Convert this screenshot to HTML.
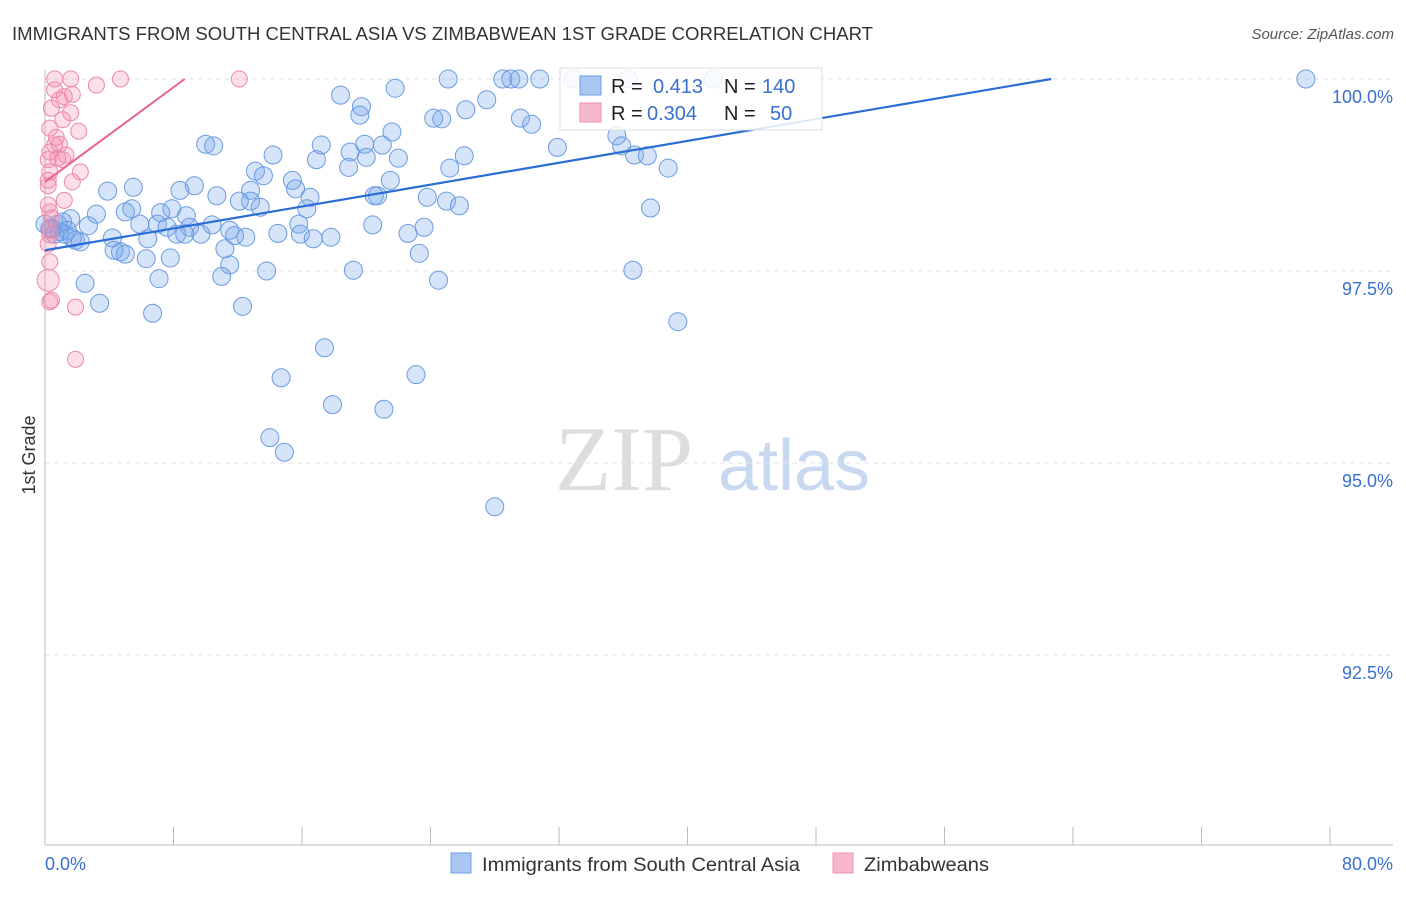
<!DOCTYPE html>
<html><head><meta charset="utf-8"><style>
body{margin:0;background:#fff;font-family:"Liberation Sans",sans-serif;}
svg text{font-family:"Liberation Sans",sans-serif;}
</style></head><body>
<svg id="chart" width="1406" height="892">
<text x="12" y="40" font-size="18" textLength="861" lengthAdjust="spacingAndGlyphs" fill="#333">IMMIGRANTS FROM SOUTH CENTRAL ASIA VS ZIMBABWEAN 1ST GRADE CORRELATION CHART</text>
<text x="1394" y="39" font-size="15" fill="#555" font-style="italic" text-anchor="end">Source: ZipAtlas.com</text>
<text x="35" y="455" font-size="18" fill="#333" transform="rotate(-90 35 455)" text-anchor="middle">1st Grade</text>
<g><text x="555" y="490" font-size="92" fill="#ddd" font-family="Liberation Serif" style="font-family:'Liberation Serif',serif">ZIP</text><text x="718" y="490" font-size="72" fill="#c8d8f0">atlas</text></g>
<g id="grid"></g><g id="pts"></g><g id="lines"></g>
<g>
<rect x="560" y="68" width="262" height="62" fill="#fff" fill-opacity="0.85" stroke="#ddd"/>
<rect x="580" y="76" width="21" height="19" fill="#a9c7f2" stroke="#6f9de0"/>
<rect x="580" y="103" width="21" height="19" fill="#f7b8cb" stroke="#ee92b0"/>
<text x="611" y="93" font-size="20" fill="#222">R =</text>
<text x="653" y="93" font-size="20" fill="#3a70d0">0.413</text>
<text x="724" y="93" font-size="20" fill="#222">N =</text>
<text x="762" y="93" font-size="20" fill="#3a70d0">140</text>
<text x="611" y="120" font-size="20" fill="#222">R =</text>
<text x="647" y="120" font-size="20" fill="#3a70d0">0.304</text>
<text x="724" y="120" font-size="20" fill="#222">N =</text>
<text x="770" y="120" font-size="20" fill="#3a70d0">50</text>
</g>
<g>
<rect x="451" y="853" width="20" height="20" fill="#a9c7f2" stroke="#6f9de0"/>
<text x="482" y="871" font-size="19.5" textLength="318" lengthAdjust="spacingAndGlyphs" fill="#333">Immigrants from South Central Asia</text>
<rect x="833" y="853" width="20" height="20" fill="#f7b8cb" stroke="#ee92b0"/>
<text x="864" y="871" font-size="19.5" textLength="125" lengthAdjust="spacingAndGlyphs" fill="#333">Zimbabweans</text>
</g>
</svg>
<script>
const blueX=[32.9,36.3,41.6,25.1,28.5,29.0,29.5,30.8,78.5,21.8,18.4,27.5,19.7,26.2,19.6,24.2,24.7,29.6,30.3,21.6,35.6,35.9,31.9,10.0,10.5,17.2,19.0,19.9,21.0,20.0,14.2,16.9,22.0,26.1,36.7,37.5,25.2,38.8,18.9,13.1,13.6,15.4,21.5,12.8,15.6,3.9,5.5,8.4,9.3,10.7,12.1,16.5,20.7,20.5,23.8,25.0,25.8,37.7,12.8,13.4,16.3,3.2,5.0,5.4,7.2,7.9,8.8,1.6,0.8,2.7,5.9,7.0,7.6,9.0,10.4,11.5,15.8,20.4,23.6,8.2,8.7,9.7,11.8,12.5,14.5,15.9,16.7,17.8,22.6,0.5,0.9,1.2,1.9,2.2,4.2,6.4,11.2,4.3,4.7,5.0,6.3,7.8,11.5,13.8,19.2,23.3,36.6,11.0,7.1,24.5,2.5,3.4,12.3,6.7,39.4,17.4,14.7,23.1,17.9,21.1,14.0,14.9,28.0,0.0,0.3,0.6,1.1,1.4,1.7];
const blueY=[100,100,100,100,100,100,100,100,100,99.88,99.79,99.73,99.64,99.60,99.53,99.49,99.48,99.49,99.41,99.31,99.26,99.13,99.11,99.15,99.13,99.14,99.05,99.15,99.14,98.98,99.01,98.95,98.97,99.00,99.01,99.00,98.84,98.84,98.85,98.80,98.74,98.68,98.68,98.55,98.57,98.54,98.59,98.55,98.61,98.48,98.41,98.46,98.48,98.48,98.46,98.41,98.35,98.32,98.41,98.33,98.31,98.24,98.27,98.31,98.26,98.31,98.22,98.18,98.11,98.09,98.11,98.11,98.07,98.07,98.10,98.03,98.11,98.10,98.07,97.98,97.98,97.98,97.96,97.94,97.99,97.98,97.92,97.94,97.99,98.05,98.01,97.98,97.90,97.88,97.93,97.92,97.79,97.77,97.75,97.72,97.66,97.67,97.58,97.50,97.51,97.73,97.51,97.43,97.40,97.38,97.34,97.08,97.04,96.95,96.84,96.50,96.11,96.15,95.76,95.70,95.33,95.14,94.43,98.11,98.05,97.98,98.14,98.03,97.93];
const pinkX=[0.6,1.6,4.7,12.1,3.2,0.6,1.2,1.7,0.9,0.4,1.6,0.3,2.1,0.7,0.9,0.3,0.8,0.2,1.1,0.3,2.2,0.2,1.7,1.2,0.2,0.3,0.4,0.3,0.2,0.3,0.2,0.4,0.3,1.9,1.9,1.1,0.2,0.6,1.3,0.3];
const pinkY=[100,100,100,100,99.92,99.86,99.77,99.80,99.73,99.62,99.56,99.36,99.32,99.24,99.15,99.05,98.97,98.95,98.95,98.79,98.79,98.68,98.66,98.42,98.36,98.27,98.19,97.97,97.85,97.62,97.38,97.12,97.10,97.03,96.35,99.47,98.61,99.14,99.01,98.03];
const blueFit=[97.77,0.0356], pinkFit=[98.66,0.154];
const yTicks=[100,97.5,95,92.5], yTickLabels=["100.0%","97.5%","95.0%","92.5%"];
const NS="http://www.w3.org/2000/svg";
const xs=v=>45+v/80*1285, ys=v=>79+(100-v)*76.8;
function mk(t,a,p){const e=document.createElementNS(NS,t);for(const k in a)e.setAttribute(k,a[k]);p.appendChild(e);return e;}
const grid=document.getElementById('grid'),pts=document.getElementById('pts'),lines=document.getElementById('lines');
yTicks.forEach((t,i)=>{
 const l=mk('line',{x1:45,x2:1393,y1:ys(t),y2:ys(t),stroke:'#e2e2e2','stroke-dasharray':'5,4'},grid);
 
 
 const tx=mk('text',{x:1393,y:ys(t)+24,'font-size':18,fill:'#3a70d0','text-anchor':'end'},grid);
 tx.textContent=yTickLabels[i];
 
 
});
const ax=mk('line',{x1:45,x2:1393,y1:845,y2:845,stroke:'#bbb'},grid);


const ay=mk('line',{x1:45,x2:45,y1:70,y2:845,stroke:'#bbb'},grid);


for(let i=0;i<=10;i++){const t=mk('line',{x1:xs(i*8),x2:xs(i*8),y1:827,y2:845,stroke:'#bbb'},grid);
 
 }
[[0,'0.0%','start',45],[80,'80.0%','end',1393]].forEach(d=>{const t=mk('text',{x:d[3],y:870,'font-size':18,fill:'#3a70d0','text-anchor':d[2]},grid);t.textContent=d[1];
 
 });
blueX.forEach((x,i)=>{const c=mk('circle',{cx:xs(x),cy:ys(blueY[i]),r:9,fill:'rgba(120,165,235,0.3)',stroke:'#6a9be0','stroke-width':1},pts);
 
 });
pinkX.forEach((x,i)=>{const c=mk('circle',{cx:xs(x),cy:ys(pinkY[i]),r:i==30?11:8,fill:'rgba(245,140,175,0.28)',stroke:'#ec88aa','stroke-width':1},pts);
 
 });
const bEnd=(100-blueFit[0])/blueFit[1];
const bl=mk('line',{x1:xs(0),y1:ys(blueFit[0]),x2:xs(bEnd),y2:ys(100),stroke:'#2a6dd6','stroke-width':2.2},lines);


const pEnd=(100-pinkFit[0])/pinkFit[1];
const pl=mk('line',{x1:xs(0),y1:ys(pinkFit[0]),x2:xs(pEnd),y2:ys(100),stroke:'#e8628e','stroke-width':2},lines);


</script>
</body></html>
